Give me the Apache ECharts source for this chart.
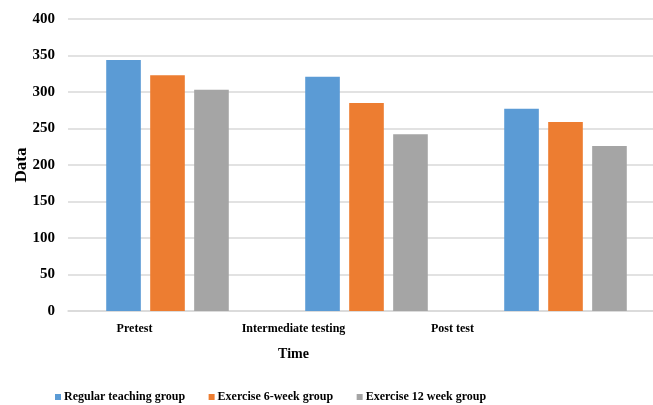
<!DOCTYPE html>
<html>
<head>
<meta charset="utf-8">
<script src="https://cdn.jsdelivr.net/npm/echarts@6/dist/echarts.min.js"></script>
<style>
  html, body { margin: 0; padding: 0; background: #fff; }
  #chart { width: 653px; height: 405px; }
</style>
</head>
<body>
<div id="chart"></div>
<script>
// categories and values
const categories = ['Pretest', 'Intermediate testing', 'Post test']
const seriesNames = ['Regular teaching group', 'Exercise 6-week group', 'Exercise 12 week group']
const regularValues = [344, 321, 277]
const week6Values = [323, 285, 259]
const week12Values = [303, 242, 226]
const colors = ['#5b9bd5', '#ed7d31', '#a5a5a5']

const font = '"Liberation Serif", "Times New Roman", serif'

const chart = echarts.init(document.getElementById('chart'))

function bar(name, data) {
  return {
    name: name,
    type: 'bar',
    data: data,
    barWidth: '17.4%',
    barGap: '27%',
    animation: false
  }
}

chart.setOption({
  color: colors,
  textStyle: { fontFamily: font },
  // grid 0 holds the bars (runs past the right edge, as in the picture),
  // grid 1 only carries the category labels, which sit narrower in the source
  grid: [
    { left: 68, width: 597, top: 19, bottom: 94, outerBoundsMode: 'none', containLabel: false },
    { left: 55, width: 477, top: 19, bottom: 94, outerBoundsMode: 'none', containLabel: false }
  ],
  legend: {
    top: 386,
    left: 50,
    itemWidth: 6,
    itemHeight: 6,
    itemGap: 23.5,
    icon: 'rect',
    textStyle: {
      fontFamily: font,
      fontWeight: 'bold',
      fontSize: 12,
      color: '#000',
      padding: [0, 0, 0, -2]
    },
    data: seriesNames
  },
  xAxis: [
    {
      type: 'category',
      gridIndex: 0,
      data: categories,
      axisTick: { show: false },
      axisLine: { lineStyle: { color: '#d9d9d9', width: 1.5 } },
      axisLabel: { show: false }
    },
    {
      type: 'category',
      gridIndex: 1,
      data: categories,
      name: 'Time',
      nameLocation: 'middle',
      nameGap: 36,
      nameTextStyle: {
        fontFamily: font,
        fontWeight: 'bold',
        fontSize: 14,
        color: '#000'
      },
      axisTick: { show: false },
      axisLine: { show: false },
      axisLabel: {
        fontFamily: font,
        fontWeight: 'bold',
        fontSize: 12,
        color: '#000',
        margin: 12
      }
    }
  ],
  yAxis: [
    {
      type: 'value',
      gridIndex: 0,
      min: 0,
      max: 400,
      interval: 50,
      name: 'Data',
      nameLocation: 'middle',
      nameGap: 38,
      nameMoveOverlap: false,
      nameTextStyle: {
        fontFamily: font,
        fontWeight: 'bold',
        fontSize: 17,
        color: '#000'
      },
      axisLine: { show: false },
      axisTick: { show: false },
      splitLine: { lineStyle: { color: '#d9d9d9', width: 1.5 } },
      axisLabel: {
        fontFamily: font,
        fontWeight: 'bold',
        fontSize: 15,
        color: '#000',
        margin: 13
      }
    },
    {
      type: 'value',
      gridIndex: 1,
      show: false,
      min: 0,
      max: 400
    }
  ],
  series: [
    bar(seriesNames[0], regularValues),
    bar(seriesNames[1], week6Values),
    bar(seriesNames[2], week12Values)
  ]
})
</script>
</body>
</html>
